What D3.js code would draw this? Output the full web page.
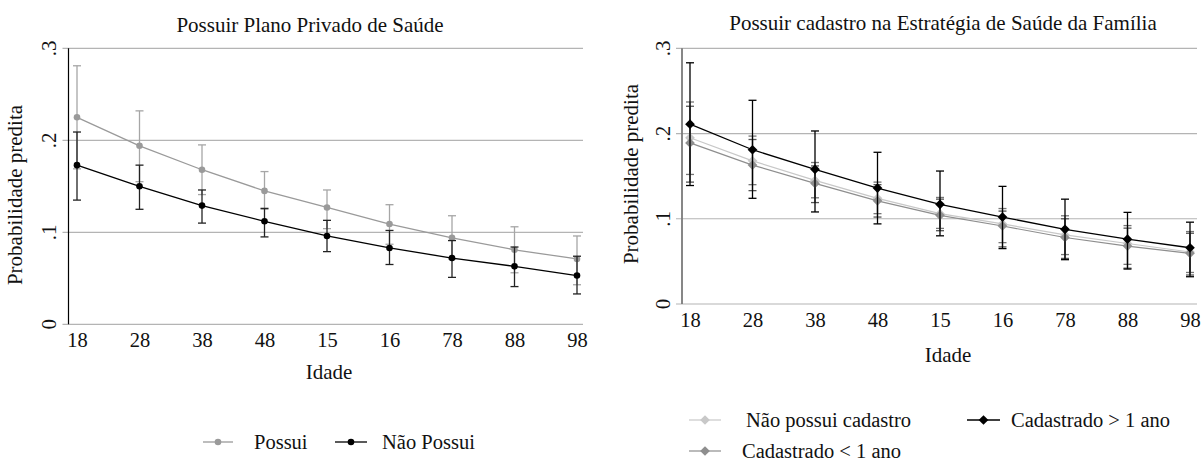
<!DOCTYPE html>
<html><head><meta charset="utf-8">
<script src="https://cdn.jsdelivr.net/npm/d3@7"></script>
<style>body{margin:0;background:#fff}svg{display:block}text{font-family:"Liberation Serif","DejaVu Serif",serif;fill:#111}</style>
</head><body><svg id="c" width="1201" height="463"></svg>
<script>
const categories = ["18","28","38","48","15","16","78","88","98"];
const yTicks = [0, 0.1, 0.2, 0.3];

// Left panel: Possuir Plano Privado de Saúde
const possui      = [0.225,0.194,0.168,0.145,0.127,0.109,0.094,0.081,0.071];
const possuiLo    = [0.169,0.155,0.141,0.125,0.104,0.087,0.071,0.056,0.043];
const possuiHi    = [0.281,0.232,0.195,0.166,0.146,0.130,0.118,0.106,0.096];
const naoPossui   = [0.173,0.150,0.129,0.112,0.096,0.083,0.072,0.063,0.053];
const naoPossuiLo = [0.135,0.125,0.110,0.095,0.079,0.065,0.051,0.041,0.033];
const naoPossuiHi = [0.209,0.173,0.146,0.126,0.113,0.102,0.091,0.084,0.074];

// Right panel: Possuir cadastro na Estratégia de Saúde da Família
const semCadastro   = [0.195,0.168,0.145,0.124,0.106,0.094,0.081,0.071,0.061];
const semCadastroLo = [0.152,0.140,0.1246,0.106,0.0887,0.072,0.058,0.0465,0.037];
const semCadastroHi = [0.237,0.197,0.166,0.143,0.125,0.112,0.1035,0.092,0.085];
const menos1        = [0.189,0.163,0.1415,0.121,0.104,0.0915,0.078,0.068,0.0595];
const menos1Lo      = [0.143,0.133,0.119,0.102,0.086,0.067,0.0535,0.042,0.034];
const menos1Hi      = [0.232,0.193,0.162,0.140,0.123,0.109,0.100,0.089,0.083];
const mais1         = [0.211,0.181,0.158,0.136,0.117,0.102,0.0876,0.076,0.066];
const mais1Lo       = [0.139,0.124,0.108,0.094,0.080,0.065,0.052,0.041,0.032];
const mais1Hi       = [0.283,0.239,0.203,0.178,0.156,0.138,0.123,0.1075,0.096];

const svg = d3.select("#c");
const fmt = d => d === 0 ? "0" : d3.format(".1f")(d).replace(/^0/, "");

function panel(cfg){
  const g = svg.append("g");
  const x = d3.scalePoint().domain(categories).range(cfg.xr);
  const y = d3.scaleLinear().domain([0,0.3]).range(cfg.yr);
  g.selectAll(".grid").data(yTicks).join("line")
    .attr("x1", cfg.ax - 6).attr("x2", cfg.xend)
    .attr("y1", d => y(d)).attr("y2", d => y(d))
    .attr("stroke", "#b4b4b4").attr("stroke-width", 1.2);
  g.append("line").attr("x1", cfg.ax).attr("x2", cfg.ax)
    .attr("y1", y(0.3)).attr("y2", y(0))
    .attr("stroke", cfg.axisColor).attr("stroke-width", cfg.axisW);
  g.selectAll(".yl").data(yTicks).join("text")
    .attr("transform", d => `translate(${cfg.ylx},${y(d)}) rotate(-90)`)
    .attr("text-anchor", "middle").attr("dy", "0.35em")
    .style("font-size", "21px").text(fmt);
  const xa = g.append("g").attr("transform", `translate(0,${y(0)})`)
    .call(d3.axisBottom(x).tickSize(0).tickPadding(cfg.xpad));
  xa.select(".domain").remove();
  xa.selectAll("text").style("font-size", "20.5px").attr("font-family", null).style("fill", "#111");
  g.append("text").attr("x", cfg.titleX).attr("y", cfg.titleY).attr("text-anchor", "middle")
    .style("font-size", "21px").text(cfg.title);
  g.append("text").attr("x", cfg.idadeX).attr("y", cfg.idadeY).attr("text-anchor", "middle")
    .style("font-size", "21px").text("Idade");
  g.append("text").attr("transform", `translate(${cfg.ytX},${cfg.ytY}) rotate(-90)`)
    .attr("text-anchor", "middle").style("font-size", "21px").text("Probabilidade predita");

  const line = d3.line().x((d,i) => x(categories[i])).y(d => y(d));
  cfg.series.forEach(s => {
    const eb = g.append("g");
    categories.forEach((c,i) => {
      const cx = x(c);
      eb.append("line").attr("x1", cx).attr("x2", cx).attr("y1", y(s.lo[i])).attr("y2", y(s.hi[i]))
        .attr("stroke", s.ci).attr("stroke-width", 1.3);
      [s.lo[i], s.hi[i]].forEach(v => eb.append("line")
        .attr("x1", cx - 4).attr("x2", cx + 4).attr("y1", y(v)).attr("y2", y(v))
        .attr("stroke", s.ci).attr("stroke-width", 1.3));
    });
    g.append("path").datum(s.v).attr("d", line).attr("fill", "none")
      .attr("stroke", s.color).attr("stroke-width", s.lw);
    if (s.shape === "circle") {
      g.selectAll(null).data(s.v).join("circle")
        .attr("cx", (d,i) => x(categories[i])).attr("cy", d => y(d)).attr("r", 3.3).attr("fill", s.color);
    } else {
      const sym = d3.symbol().type(d3.symbolDiamond2).size(60);
      g.selectAll(null).data(s.v).join("path").attr("d", sym)
        .attr("transform", (d,i) => `translate(${x(categories[i])},${y(d)})`).attr("fill", s.color);
    }
  });
  cfg.legend.forEach(l => {
    const s = l.s;
    g.append("line").attr("x1", l.x1).attr("x2", l.x2).attr("y1", l.y).attr("y2", l.y)
      .attr("stroke", s.color).attr("stroke-width", s.lw);
    const mx = (l.x1 + l.x2) / 2;
    if (s.shape === "circle") g.append("circle").attr("cx", mx).attr("cy", l.y).attr("r", 3.3).attr("fill", s.color);
    else g.append("path").attr("d", d3.symbol().type(d3.symbolDiamond2).size(60)).attr("transform", `translate(${mx},${l.y})`).attr("fill", s.color);
    g.append("text").attr("x", l.tx).attr("y", l.y).attr("dy", "0.33em").style("font-size", "20.5px").text(l.label);
  });
}

const sPossui = {v: possui, lo: possuiLo, hi: possuiHi, color: "#9a9a9a", ci: "#a6a6a6", lw: 1.3, shape: "circle"};
const sNao = {v: naoPossui, lo: naoPossuiLo, hi: naoPossuiHi, color: "#000", ci: "#222", lw: 1.3, shape: "circle"};
panel({
  xr: [77, 577], yr: [324.3, 48.3], ax: 68.5, xend: 583, axisColor: "#000", axisW: 1.2,
  ylx: 49, xpad: 8, title: "Possuir Plano Privado de Saúde", titleX: 310, titleY: 32,
  idadeX: 329, idadeY: 379, ytX: 22, ytY: 195,
  series: [sPossui, sNao],
  legend: [
    {s: sPossui, x1: 203, x2: 233, y: 442, tx: 254, label: "Possui"},
    {s: sNao, x1: 335, x2: 367, y: 442, tx: 382, label: "Não Possui"}
  ]
});

const sSem = {v: semCadastro, lo: semCadastroLo, hi: semCadastroHi, color: "#c8c8c8", ci: "#777", lw: 1.2, shape: "diamond"};
const sMenos = {v: menos1, lo: menos1Lo, hi: menos1Hi, color: "#8e8e8e", ci: "#555", lw: 1.2, shape: "diamond"};
const sMais = {v: mais1, lo: mais1Lo, hi: mais1Hi, color: "#000", ci: "#000", lw: 1.3, shape: "diamond"};
panel({
  xr: [690, 1190], yr: [304, 48.3], ax: 682, xend: 1197, axisColor: "#7a7a7a", axisW: 1.8,
  ylx: 663, xpad: 8, title: "Possuir cadastro na Estratégia de Saúde da Família", titleX: 943, titleY: 30,
  idadeX: 948, idadeY: 362, ytX: 638, ytY: 174,
  series: [sSem, sMenos, sMais],
  legend: [
    {s: sSem, x1: 689, x2: 721, y: 420, tx: 746, label: "Não possui cadastro"},
    {s: sMais, x1: 967, x2: 1000, y: 420, tx: 1011, label: "Cadastrado > 1 ano"},
    {s: sMenos, x1: 689, x2: 721, y: 451, tx: 742, label: "Cadastrado < 1 ano"}
  ]
});
</script></body></html>
